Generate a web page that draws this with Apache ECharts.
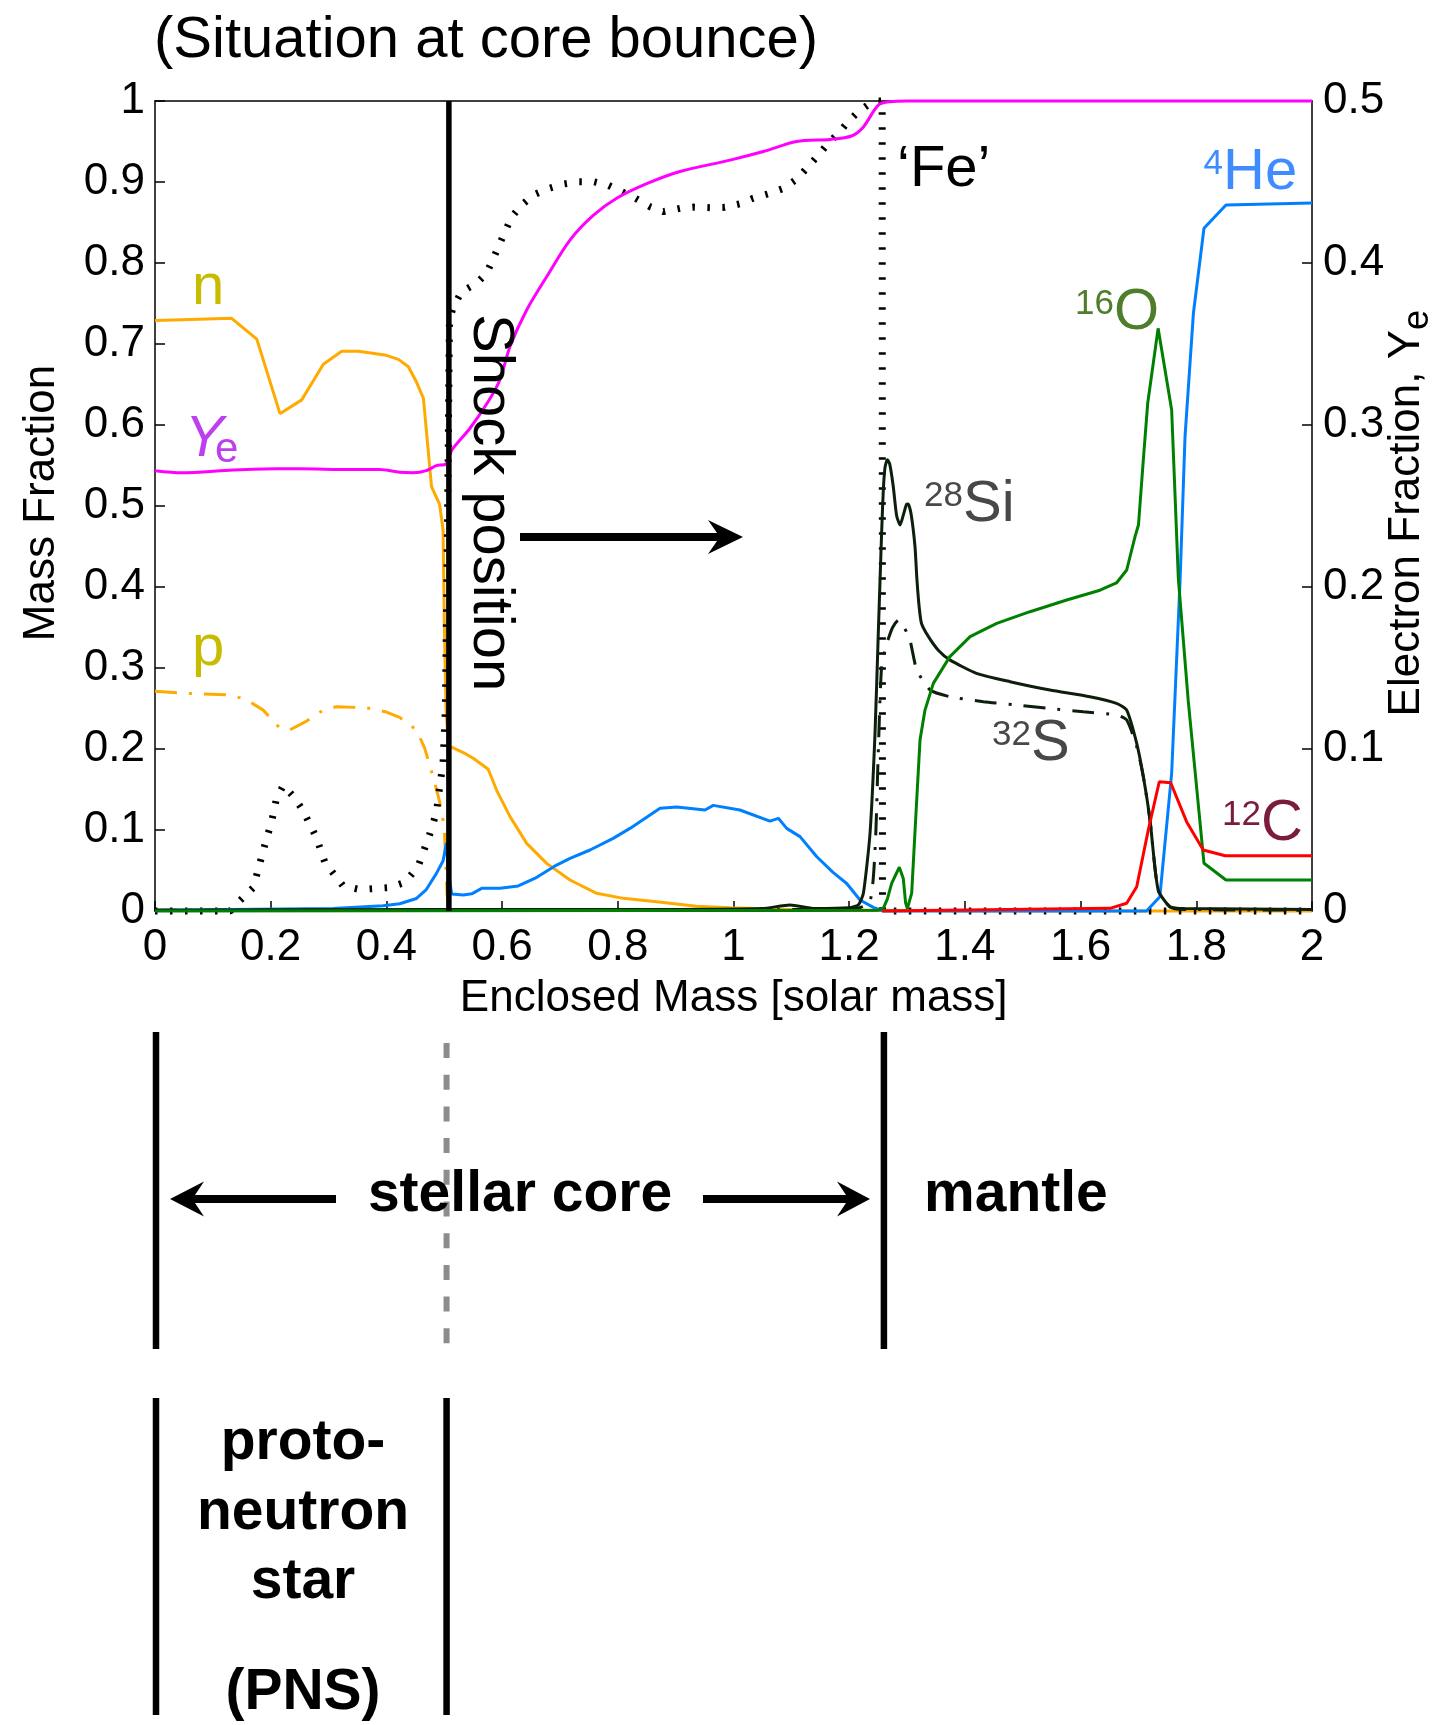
<!DOCTYPE html>
<html>
<head>
<meta charset="utf-8">
<script src="https://cdn.jsdelivr.net/npm/echarts@6/dist/echarts.min.js"></script>
<style>
  html, body { margin: 0; padding: 0; background: #fff; }
  #chart { width: 1455px; height: 1725px; }
</style>
</head>
<body>
<div id="chart"></div>
<script>
const FONT = "'Liberation Sans', Arial, Helvetica, sans-serif";

// Composition profile at core bounce: [enclosed mass (M_sun), mass fraction]
const neutronFrac = [[0,0.729],[0.046,0.730],[0.1325,0.7317],[0.176,0.706],[0.216,0.614],[0.2536,0.631],[0.291,0.675],[0.3227,0.691],[0.3515,0.691],[0.40,0.686],[0.4207,0.681],[0.438,0.672],[0.452,0.653],[0.464,0.633],[0.478,0.524],[0.492,0.502],[0.498,0.47],[0.500,0.36],[0.503,0.25],[0.507,0.205],[0.5117,0.2025],[0.533,0.1955],[0.5502,0.1885],[0.576,0.175],[0.5906,0.149],[0.6137,0.1165],[0.6425,0.0835],[0.677,0.0588],[0.7174,0.0383],[0.7635,0.0218],[0.8095,0.0156],[0.867,0.0115],[0.936,0.006],[0.994,0.004],[1.10,0.002],[1.25,0.001],[1.40,0.0],[2.0,0.0]];
const protonFrac = [[0,0.2712],[0.0547,0.2686],[0.1295,0.2668],[0.158,0.261],[0.187,0.248],[0.216,0.2257],[0.233,0.2235],[0.262,0.2345],[0.2907,0.248],[0.3138,0.2522],[0.3656,0.2509],[0.40,0.2456],[0.423,0.239],[0.452,0.2235],[0.466,0.2013],[0.4807,0.166],[0.492,0.135],[0.50,0.104],[0.505,0.02],[0.51,0.0]];
const ironGroupFrac = [[0,0],[0.13,0],[0.147,0.013],[0.17,0.029],[0.19,0.082],[0.2015,0.11],[0.21,0.139],[0.2217,0.155],[0.239,0.1416],[0.256,0.124],[0.279,0.0907],[0.2936,0.06],[0.325,0.031],[0.354,0.0265],[0.406,0.029],[0.432,0.0354],[0.455,0.0553],[0.475,0.095],[0.4865,0.1217],[0.492,0.1527],[0.498,0.1836],[0.502,0.25],[0.506,0.5],[0.509,0.73],[0.5157,0.746],[0.530,0.7646],[0.556,0.775],[0.573,0.787],[0.585,0.806],[0.596,0.824],[0.6166,0.857],[0.634,0.8716],[0.654,0.884],[0.680,0.892],[0.706,0.8975],[0.732,0.9004],[0.758,0.9004],[0.7836,0.896],[0.8067,0.888],[0.83,0.880],[0.8557,0.8695],[0.8787,0.8634],[0.9075,0.8675],[0.93,0.869],[0.9594,0.8683],[0.985,0.8687],[1.011,0.873],[1.034,0.880],[1.063,0.886],[1.086,0.892],[1.109,0.9033],[1.1266,0.917],[1.144,0.931],[1.164,0.948],[1.181,0.960],[1.1985,0.9745],[1.2157,0.9868],[1.236,0.997],[1.25,1.0],[1.257,1.0],[1.2575,0],[2.0,0]];
const heliumFrac = [[0,0.001],[0.308,0.003],[0.394,0.0066],[0.423,0.009],[0.452,0.0155],[0.469,0.0265],[0.4865,0.0465],[0.498,0.062],[0.5037,0.084],[0.507,0.05],[0.5128,0.021],[0.533,0.0198],[0.5475,0.0212],[0.5647,0.028],[0.5964,0.028],[0.628,0.0309],[0.66,0.0416],[0.69,0.055],[0.7174,0.065],[0.752,0.0753],[0.792,0.0897],[0.821,0.102],[0.8557,0.1185],[0.873,0.1268],[0.9018,0.1284],[0.9507,0.1247],[0.965,0.1304],[1.011,0.1247],[1.063,0.111],[1.0775,0.1144],[1.092,0.102],[1.115,0.0918],[1.144,0.067],[1.1725,0.0473],[1.1957,0.034],[1.2187,0.0136],[1.2417,0.0045],[1.259,0.0],[1.714,0.0],[1.737,0.0177],[1.7574,0.17],[1.772,0.409],[1.7805,0.5856],[1.795,0.738],[1.8133,0.843],[1.8513,0.8716],[2.0,0.874]];
const siliconFrac = [[0,0.001],[0.5,0.002],[0.9,0.002],[1.05,0.003],[1.0977,0.0074],[1.14,0.003],[1.2,0.004],[1.2157,0.0074],[1.2245,0.0218],[1.236,0.096],[1.2446,0.219],[1.2503,0.343],[1.256,0.466],[1.259,0.52],[1.262,0.548],[1.266,0.557],[1.270,0.552],[1.276,0.525],[1.282,0.488],[1.288,0.4765],[1.294,0.49],[1.299,0.502],[1.302,0.5025],[1.307,0.49],[1.3137,0.45],[1.317,0.41],[1.321,0.375],[1.325,0.355],[1.337,0.3387],[1.354,0.322],[1.374,0.31],[1.42,0.2934],[1.478,0.2831],[1.547,0.2728],[1.616,0.2646],[1.662,0.2564],[1.6797,0.248],[1.697,0.207],[1.7084,0.166],[1.72,0.1123],[1.734,0.026],[1.7545,0.0053],[1.78,0.003],[2.0,0.002]];
const sulfurFrac = [[0,0.001],[1.2,0.002],[1.235,0.01],[1.245,0.08],[1.25,0.19],[1.256,0.3016],[1.265,0.330],[1.275,0.35],[1.285,0.359],[1.295,0.35],[1.305,0.3346],[1.3167,0.298],[1.34,0.2728],[1.374,0.2646],[1.432,0.2584],[1.4895,0.2543],[1.547,0.250],[1.6047,0.246],[1.662,0.242],[1.6797,0.2358],[1.697,0.203],[1.7084,0.166],[1.72,0.112],[1.734,0.026],[1.7545,0.005],[1.78,0.002],[2.0,0.001]];
const oxygenFrac = [[0,0],[1.25,0.001],[1.259,0.0033],[1.266,0.015],[1.2734,0.034],[1.2866,0.054],[1.2935,0.04],[1.2975,0.01],[1.3005,0.003],[1.308,0.022],[1.3167,0.137],[1.3224,0.211],[1.331,0.248],[1.3454,0.281],[1.374,0.314],[1.409,0.3387],[1.455,0.355],[1.5125,0.3695],[1.576,0.384],[1.6335,0.396],[1.662,0.405],[1.6797,0.421],[1.694,0.462],[1.70,0.4765],[1.7084,0.5568],[1.716,0.6268],[1.734,0.7193],[1.7574,0.6185],[1.769,0.41],[1.786,0.26],[1.8133,0.0589],[1.8513,0.0383],[2.0,0.0383]];
const carbonFrac = [[1.257,0],[1.6508,0.0033],[1.6797,0.0095],[1.697,0.03],[1.717,0.1],[1.736,0.1596],[1.7557,0.1584],[1.7834,0.110],[1.812,0.0753],[1.85,0.0683],[2.0,0.0683]];
// Electron fraction Y_e (right axis)
const electronFrac = [[0,0.2718],[0.046,0.2705],[0.135,0.2722],[0.21,0.273],[0.25,0.273],[0.3367,0.2725],[0.3885,0.2725],[0.423,0.2708],[0.446,0.2705],[0.469,0.2718],[0.4862,0.2749],[0.5035,0.276],[0.513,0.2845],[0.5445,0.298],[0.576,0.3145],[0.596,0.3278],[0.6137,0.3485],[0.6425,0.371],[0.677,0.3915],[0.717,0.414],[0.758,0.4295],[0.798,0.44],[0.85,0.449],[0.9075,0.4565],[0.994,0.4635],[1.0516,0.4688],[1.109,0.475],[1.167,0.4763],[1.204,0.4784],[1.2245,0.484],[1.2503,0.4975],[1.2705,0.4996],[1.30,0.5],[2.0,0.5]];

// Region boundaries (solar masses)
const shockMass = 0.508;
const pnsEdgeMass = 0.504;
const coreEdgeMass = 1.26;

const fmt = v => String(+v.toFixed(1));

function lineSeries(name, data, color, width, extra) {
  const ex = extra || {};
  const s = {
    type: 'line', name, data,
    symbol: 'none', showSymbol: false, clip: false, animation: false
  };
  Object.keys(ex).forEach(k => { if (k !== 'lineStyle') s[k] = ex[k]; });
  s.lineStyle = Object.assign({ color, width, cap: 'butt', join: 'bevel' }, ex.lineStyle || {});
  return s;
}

const DASHDOT = [22, 12, 3, 12];
const LW = 3;
const axisCommon = {
  axisLine: { show: true, onZero: false, lineStyle: { color: '#000', width: 1.5 } },
  axisTick: { show: true, inside: true, length: 10, lineStyle: { color: '#000', width: 1.5 } },
  splitLine: { show: false }
};

const option = {
  animation: false,
  backgroundColor: '#fff',
  grid: { left: 155, right: 143, top: 101, bottom: 814, containLabel: false },
  xAxis: [
    Object.assign({
      type: 'value', min: 0, max: 2, interval: 0.2, position: 'bottom',
      axisLabel: { margin: 15, color: '#000', fontSize: 44, fontFamily: FONT, formatter: fmt }
    }, axisCommon),
    {
      type: 'value', min: 0, max: 2, position: 'top',
      axisLine: { show: true, onZero: false, lineStyle: { color: '#000', width: 1.5 } },
      axisTick: { show: false }, axisLabel: { show: false }, splitLine: { show: false }
    }
  ],
  yAxis: [
    Object.assign({
      type: 'value', min: 0, max: 1, interval: 0.1, position: 'left',
      axisLabel: { margin: 10, color: '#000', fontSize: 44, fontFamily: FONT, formatter: fmt }
    }, axisCommon),
    Object.assign({
      type: 'value', min: 0, max: 0.5, interval: 0.1, position: 'right',
      axisLabel: { margin: 11, color: '#000', fontSize: 44, fontFamily: FONT, formatter: fmt }
    }, axisCommon)
  ],
  series: [
    lineSeries('n', neutronFrac, '#FFAA00', LW),
    lineSeries('p', protonFrac, '#FFAA00', LW, { lineStyle: { type: DASHDOT } }),
    lineSeries('Fe', ironGroupFrac, '#000', 7, { lineStyle: { type: [2.5, 12.5] } }),
    lineSeries('4He', heliumFrac, '#0080FF', LW),
    lineSeries('32S', sulfurFrac, '#0B1F0B', LW, { lineStyle: { type: DASHDOT }, smooth: 0.2 }),
    lineSeries('28Si', siliconFrac, '#0B1F0B', LW, { smooth: 0.2 }),
    lineSeries('16O', oxygenFrac, '#008000', LW),
    lineSeries('12C', carbonFrac, '#FF0000', LW),
    lineSeries('Ye', electronFrac, '#FF00FF', LW, { yAxisIndex: 1, smooth: 0.3 }),
    lineSeries('shock', [[shockMass, 0], [shockMass, 1]], '#000', 5.5)
  ]
};

const chart = echarts.init(document.getElementById('chart'), null, { renderer: 'canvas' });
chart.setOption(option);

const px = m => chart.convertToPixel({ xAxisIndex: 0 }, m);

// text placed by its baseline
function label(x, baseline, text, o) {
  const size = o.size;
  return {
    type: 'text', x, y: baseline - 0.3465 * size, rotation: o.rot || 0, z: 60, silent: true,
    style: {
      text, fill: o.color || '#000',
      font: `${o.italic ? 'italic ' : ''}${o.bold ? 'bold ' : ''}${size}px ${FONT}`,
      align: o.align || 'left', verticalAlign: 'middle'
    }
  };
}
// rotated text placed by its centre line
function vlabel(xMid, y, text, o) {
  return {
    type: 'text', x: xMid, y, rotation: o.rot, z: 60, silent: true,
    style: { text, fill: o.color || '#000', font: `${o.size}px ${FONT}`, align: o.align || 'center', verticalAlign: 'middle' }
  };
}
// isotope label: superscript mass number + element symbol
function isotope(xSplit, baseline, mass, sym, color) {
  return [
    { type: 'text', x: xSplit, y: baseline - 28.5, z: 60, silent: true,
      style: { text: mass, fill: color, font: `35px ${FONT}`, align: 'right', verticalAlign: 'middle' } },
    label(xSplit, baseline, sym, { size: 58, color })
  ];
}
function arrow(xTail, xTip, y, shaft, headLen, headHalf, notch) {
  const d = Math.sign(xTip - xTail);
  const xb = xTip - d * headLen;
  const xn = xb + d * notch;
  return {
    type: 'polygon', z: 60, silent: true,
    shape: { points: [[xTail, y - shaft / 2], [xn, y - shaft / 2], [xb, y - headHalf], [xTip, y], [xb, y + headHalf], [xn, y + shaft / 2], [xTail, y + shaft / 2]] },
    style: { fill: '#000' }
  };
}
function vline(x, y1, y2, w, color, dash) {
  return {
    type: 'line', z: 60, silent: true,
    shape: { x1: x, y1, x2: x, y2 },
    style: { stroke: color || '#000', lineWidth: w, lineDash: dash || null }
  };
}

const x0 = px(0) + 1, xPns = px(pnsEdgeMass), xCore = px(coreEdgeMass);

const graphic = [
  label(154, 61, '(Situation at core bounce)', { size: 58 }),
  vlabel(42, 503, 'Mass Fraction', { size: 44, rot: Math.PI / 2 }),
  label(733.7, 1014, 'Enclosed Mass [solar mass]', { size: 44, align: 'center' }),
  vlabel(1407, 330, 'Electron Fraction, Y', { size: 44, rot: Math.PI / 2, align: 'right' }),
  vlabel(1418, 330, 'e', { size: 36, rot: Math.PI / 2, align: 'left' }),

  label(192, 308, 'n', { size: 58, color: '#C8BC00' }),
  label(192, 669, 'p', { size: 58, color: '#C8BC00' }),
  label(185, 460, 'Y', { size: 58, color: '#BD40F0', italic: true }),
  label(215, 465, 'e', { size: 42, color: '#BD40F0' }),
  { type: 'text', x: 490, y: 314, rotation: -Math.PI / 2, z: 60, silent: true,
    style: { text: 'Shock position', fill: '#000', font: `58px ${FONT}`, align: 'left', verticalAlign: 'middle' } },
  arrow(520, 743, 537, 8, 35, 17, 9),
  label(897, 190, '\u2018Fe\u2019', { size: 58 }),
  ...isotope(1223, 193, '4', 'He', '#3F8CFF'),
  ...isotope(1114, 333, '16', 'O', '#4E7D2B'),
  ...isotope(963, 525, '28', 'Si', '#484848'),
  ...isotope(1031, 764, '32', 'S', '#484848'),
  ...isotope(1261, 844, '12', 'C', '#7B1B3D'),

  // region sketch below the axes
  vline(x0, 1032, 1349, 6.5),
  vline(xPns, 1043, 1347, 6, '#8C8C8C', [15, 16.7]),
  vline(xCore, 1032, 1349, 6.5),
  arrow(336, 170, 1199, 8, 34, 17.5, 9),
  arrow(703, 870, 1199, 8, 33, 17.5, 9),
  label(520, 1215, 'stellar core', { size: 57, bold: true, align: 'center' }),
  label(924, 1215, 'mantle', { size: 57, bold: true }),

  vline(x0, 1398, 1715, 6.5),
  vline(xPns, 1398, 1715, 6.5),
  label(303, 1463, 'proto-', { size: 57, bold: true, align: 'center' }),
  label(303, 1533, 'neutron', { size: 57, bold: true, align: 'center' }),
  label(303, 1602, 'star', { size: 57, bold: true, align: 'center' }),
  label(303, 1713, '(PNS)', { size: 57, bold: true, align: 'center' })
];

chart.setOption({ graphic });
</script>
</body>
</html>
